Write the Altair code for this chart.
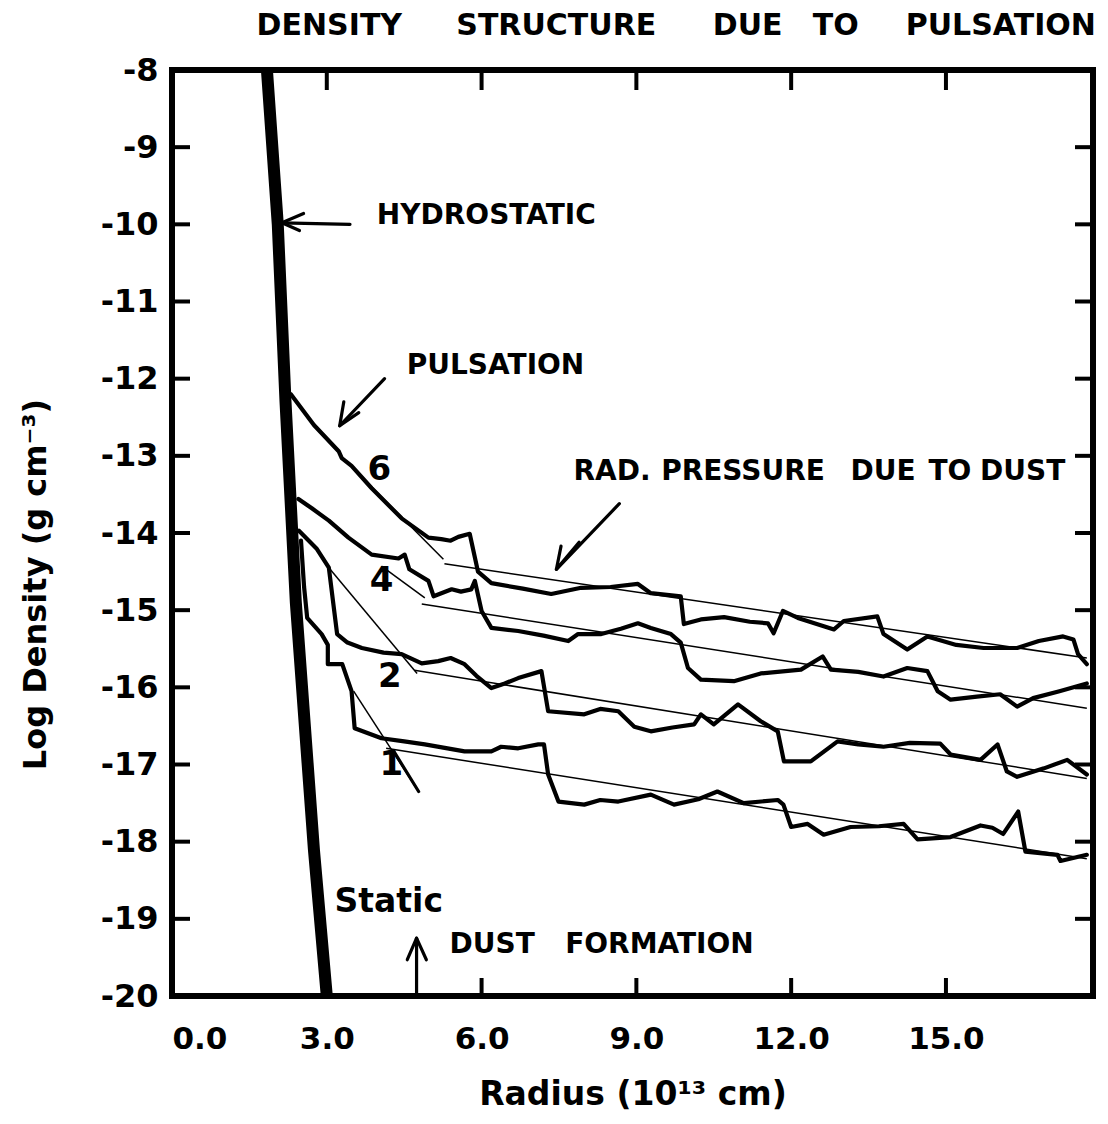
import altair as alt
import pandas as pd

# ---------------- data (radius in 1e13 cm, log density) ----------------
STATIC_R = [1.84, 2.05, 2.20, 2.40, 2.75, 3.00]
STATIC_LOGRHO = [-8.0, -10.0, -12.3, -14.9, -18.1, -20.0]

P6_R = [2.30, 2.75, 3.23, 3.29, 3.48, 3.87, 4.45, 4.97, 5.22, 5.40, 5.55, 5.77, 5.93, 6.19,
        6.80, 7.35, 7.93, 8.50, 9.03, 9.28, 9.86, 9.92, 10.25, 10.70, 11.20, 11.55, 11.66,
        11.84, 12.13, 12.83, 13.02, 13.67, 13.79, 14.25, 14.64, 15.20, 15.73, 16.38, 16.80,
        17.27, 17.47, 17.56, 17.73]
P6_LOGRHO = [-12.20, -12.60, -12.94, -13.03, -13.13, -13.42, -13.81, -14.06, -14.08, -14.10,
             -14.05, -14.01, -14.50, -14.65, -14.72, -14.79, -14.71, -14.70, -14.66, -14.78,
             -14.82, -15.18, -15.12, -15.09, -15.15, -15.17, -15.30, -15.01, -15.10, -15.25,
             -15.14, -15.08, -15.31, -15.51, -15.34, -15.45, -15.49, -15.49, -15.40, -15.34,
             -15.38, -15.57, -15.70]

P4_R = [2.45, 2.71, 3.04, 3.42, 3.87, 4.39, 4.51, 4.60, 4.97, 5.07, 5.42, 5.60, 5.80, 5.87,
        6.00, 6.19, 6.71, 7.20, 7.68, 7.87, 8.32, 8.70, 9.03, 9.28, 9.67, 9.86, 10.00, 10.25,
        10.89, 11.41, 12.19, 12.61, 12.77, 13.30, 13.79, 14.25, 14.64, 14.84, 15.09, 15.60,
        16.05, 16.38, 16.69, 17.20, 17.73]
P4_LOGRHO = [-13.56, -13.68, -13.84, -14.06, -14.28, -14.33, -14.28, -14.47, -14.62, -14.82,
             -14.73, -14.76, -14.73, -14.62, -15.01, -15.23, -15.27, -15.33, -15.40, -15.31,
             -15.31, -15.24, -15.17, -15.23, -15.31, -15.42, -15.75, -15.90, -15.92, -15.82,
             -15.77, -15.60, -15.77, -15.80, -15.86, -15.75, -15.79, -16.05, -16.16, -16.12,
             -16.09, -16.25, -16.14, -16.05, -15.95]

P2_R = [2.46, 2.80, 3.04, 3.12, 3.20, 3.40, 3.68, 4.10, 4.45, 4.84, 5.16, 5.40, 5.67, 5.90,
        6.19, 6.45, 6.71, 7.16, 7.29, 7.99, 8.30, 8.65, 8.96, 9.28, 9.70, 10.12, 10.25, 10.50,
        10.97, 11.41, 11.74, 11.86, 12.38, 12.90, 13.30, 13.79, 14.30, 14.89, 15.09, 15.67,
        16.00, 16.18, 16.38, 16.90, 17.35, 17.73]
P2_LOGRHO = [-13.97, -14.20, -14.45, -14.88, -15.31, -15.42, -15.49, -15.55, -15.57, -15.69,
             -15.66, -15.62, -15.70, -15.85, -16.01, -15.95, -15.88, -15.79, -16.31, -16.35,
             -16.28, -16.31, -16.51, -16.57, -16.52, -16.48, -16.35, -16.48, -16.22, -16.44,
             -16.57, -16.96, -16.96, -16.70, -16.74, -16.77, -16.72, -16.73, -16.87, -16.94,
             -16.74, -17.09, -17.16, -17.05, -16.94, -17.13]

P1_R = [2.50, 2.56, 2.62, 2.90, 3.02, 3.02, 3.30, 3.48, 3.54, 4.06, 4.50, 4.90, 5.67, 6.19,
        6.38, 6.71, 7.10, 7.21, 7.29, 7.49, 7.99, 8.30, 8.65, 9.28, 9.73, 10.20, 10.57, 11.08,
        11.74, 11.85, 12.00, 12.32, 12.63, 13.15, 13.70, 14.18, 14.45, 15.09, 15.67, 15.90,
        16.11, 16.40, 16.54, 17.16, 17.22, 17.73]
P1_LOGRHO = [-14.10, -14.70, -15.10, -15.31, -15.45, -15.70, -15.70, -16.05, -16.53, -16.66,
             -16.70, -16.74, -16.83, -16.83, -16.77, -16.79, -16.74, -16.74, -17.13, -17.48,
             -17.52, -17.46, -17.48, -17.39, -17.52, -17.45, -17.35, -17.50, -17.46, -17.52,
             -17.81, -17.77, -17.91, -17.81, -17.80, -17.77, -17.97, -17.94, -17.79, -17.82,
             -17.90, -17.61, -18.13, -18.17, -18.25, -18.17]

# thin straight fits (start / end points)
FIT_NAMES = ["6a", "6b", "4a", "4b", "2a", "2b", "1a", "1b"]
FIT_R0 = [3.42, 5.28, 4.06, 4.84, 3.04, 4.70, 3.52, 4.15]
FIT_R1 = [5.26, 17.73, 4.90, 17.73, 4.75, 17.73, 4.78, 17.73]
FIT_Y0 = [-13.10, -14.40, -14.43, -14.92, -14.45, -15.78, -16.05, -16.79]
FIT_Y1 = [-14.34, -15.62, -14.84, -16.27, -15.82, -17.18, -17.35, -18.22]

# annotation arrows (polylines)
ARROW_NAMES = ["hydro", "hydro_h", "puls", "puls_h", "rad", "rad_h", "dust", "dust_h", "one"]
ARROW_R = [[3.45, 2.13], [2.55, 2.13, 2.47], [4.12, 3.25], [3.33, 3.25, 3.62],
           [8.67, 7.45], [7.54, 7.45, 7.89], [4.74, 4.74], [4.56, 4.74, 4.93], [4.30, 4.78]]
ARROW_Y = [[-10.0, -9.98], [-9.86, -9.98, -10.08], [-12.0, -12.61], [-12.30, -12.61, -12.44],
           [-13.62, -14.47], [-14.17, -14.47, -14.12], [-20.0, -19.25], [-19.53, -19.25, -19.53],
           [-16.83, -17.35]]

# curve labels
CURVE_LABELS = ["6", "4", "2", "1"]
CURVE_LABEL_R = [4.02, 4.06, 4.22, 4.25]
CURVE_LABEL_Y = [-13.19, -14.62, -15.86, -17.00]

# hand-lettered notes (word, left r, centre logrho)
NOTE_WORDS = ["HYDROSTATIC", "PULSATION", "RAD.", "PRESSURE", "DUE", "TO", "DUST",
              "DUST", "FORMATION"]
NOTE_R = [3.97, 4.55, 7.78, 9.48, 13.15, 14.66, 15.66, 5.38, 7.62]
NOTE_Y = [-9.89, -11.83, -13.21, -13.21, -13.21, -13.21, -13.21, -19.34, -19.34]

TITLE_WORDS = ["DENSITY", "STRUCTURE", "DUE", "TO", "PULSATION"]
TITLE_R = [1.64, 5.51, 10.48, 12.42, 14.22]
TITLE_Y = [-7.43, -7.43, -7.43, -7.43, -7.43]

X_TICKS = [0, 3, 6, 9, 12, 15]
X_INNER_TICKS = [3, 6, 9, 12, 15]
Y_TICKS = list(range(-8, -21, -1))
Y_INNER_TICKS = list(range(-9, -20, -1))

# ---------------- build tables ----------------
def poly_df(named):
    rows = []
    for name, xs_, ys_ in named:
        for i, (x, y) in enumerate(zip(xs_, ys_)):
            rows.append({"seg": name, "i": i, "r": x, "logrho": y})
    return pd.DataFrame(rows)

static_df = poly_df([("static", STATIC_R, STATIC_LOGRHO)])
pulse_df = poly_df([("6", P6_R, P6_LOGRHO), ("4", P4_R, P4_LOGRHO),
                    ("2", P2_R, P2_LOGRHO), ("1", P1_R, P1_LOGRHO)])
fit_df = poly_df([(n, [a, b], [c, d]) for n, a, b, c, d in
                  zip(FIT_NAMES, FIT_R0, FIT_R1, FIT_Y0, FIT_Y1)])
arrow_df = poly_df(list(zip(ARROW_NAMES, ARROW_R, ARROW_Y)))
lab_df = pd.DataFrame({"t": CURVE_LABELS, "r": CURVE_LABEL_R, "logrho": CURVE_LABEL_Y})
static_lab_df = pd.DataFrame({"t": ["Static"], "r": [3.15], "logrho": [-18.78]})
note_df = pd.DataFrame({"t": NOTE_WORDS, "r": NOTE_R, "logrho": NOTE_Y})
title_df = pd.DataFrame({"t": TITLE_WORDS, "r": TITLE_R, "logrho": TITLE_Y})
xt_df = pd.DataFrame({"r": X_INNER_TICKS})
yt_df = pd.DataFrame({"logrho": Y_INNER_TICKS})

W, H = 921, 926
xs = alt.Scale(domain=[0, 17.85], nice=False, zero=False)
ys = alt.Scale(domain=[-20, -8], nice=False, zero=False)

FONT = "DejaVu Sans"
xaxis = alt.Axis(values=X_TICKS, format=".1f", ticks=False, tickSize=0, domain=False,
                 grid=False, labelFont=FONT, labelFontSize=31, labelFontWeight="bold",
                 labelColor="black", labelPadding=28, title="Radius  (10¹³ cm)",
                 titleFont=FONT, titleFontSize=33, titleFontWeight="bold",
                 titleColor="black", titlePadding=24)
yaxis = alt.Axis(values=Y_TICKS, labelExpr="'-' + (-datum.value)", ticks=False, tickSize=0,
                 domain=False, grid=False, labelFont=FONT, labelFontSize=32,
                 labelFontWeight="bold", labelColor="black", labelPadding=14,
                 title="Log Density  (g cm⁻³)", titleFont=FONT, titleFontSize=32,
                 titleFontWeight="bold", titleColor="black", titleAngle=270,
                 titleX=-120, titleY=514, titleBaseline="bottom", titleAlign="center")

X = lambda: alt.X("r:Q", scale=xs, axis=xaxis)
Y = lambda: alt.Y("logrho:Q", scale=ys, axis=yaxis)

fits = alt.Chart(fit_df).mark_line(color="black", strokeWidth=1.5).encode(
    x=X(), y=Y(), detail="seg:N", order="i:Q")
pulses = alt.Chart(pulse_df).mark_line(color="black", strokeWidth=4.2, strokeJoin="round",
                                       strokeCap="round").encode(
    x=X(), y=Y(), detail="seg:N", order="i:Q")
static = alt.Chart(static_df).mark_line(color="black", strokeWidth=12, clip=True).encode(
    x=X(), y=Y(), order="i:Q")
arrows = alt.Chart(arrow_df).mark_line(color="black", strokeWidth=3.2, strokeCap="round",
                                       strokeJoin="round").encode(
    x=X(), y=Y(), detail="seg:N", order="i:Q")

labels = alt.Chart(lab_df).mark_text(font=FONT, fontSize=34, fontWeight="bold",
                                     color="black", align="center", baseline="middle").encode(
    x=X(), y=Y(), text="t:N")
static_lab = alt.Chart(static_lab_df).mark_text(font=FONT, fontSize=33, fontWeight="bold",
                                                color="black", align="left",
                                                baseline="middle").encode(
    x=X(), y=Y(), text="t:N")
notes = alt.Chart(note_df).mark_text(font=FONT, fontSize=28, fontWeight="bold",
                                     color="black", align="left",
                                     baseline="middle").encode(x=X(), y=Y(), text="t:N")
title = alt.Chart(title_df).mark_text(font=FONT, fontSize=30, fontWeight="bold",
                                      color="black", align="left",
                                      baseline="middle").encode(x=X(), y=Y(), text="t:N")

tick_bottom = alt.Chart(xt_df).mark_rule(color="black", strokeWidth=4).encode(
    x=X(), y=alt.value(H), y2=alt.value(H - 18))
tick_top = alt.Chart(xt_df).mark_rule(color="black", strokeWidth=4).encode(
    x=X(), y=alt.value(0), y2=alt.value(20))
tick_left = alt.Chart(yt_df).mark_rule(color="black", strokeWidth=4).encode(
    y=Y(), x=alt.value(0), x2=alt.value(18))
tick_right = alt.Chart(yt_df).mark_rule(color="black", strokeWidth=4).encode(
    y=Y(), x=alt.value(W), x2=alt.value(W - 18))

chart = alt.layer(
    fits, pulses, static, arrows, labels, static_lab, notes, title,
    tick_bottom, tick_top, tick_left, tick_right
).properties(
    width=W, height=H,
    padding={"left": 172, "top": 70, "right": 15, "bottom": 128},
    autosize=alt.AutoSizeParams(type="none"),
    background="white",
).configure_view(stroke="black", strokeWidth=6)

chart.save("out.html", embed_options={"renderer": "svg", "actions": False})
